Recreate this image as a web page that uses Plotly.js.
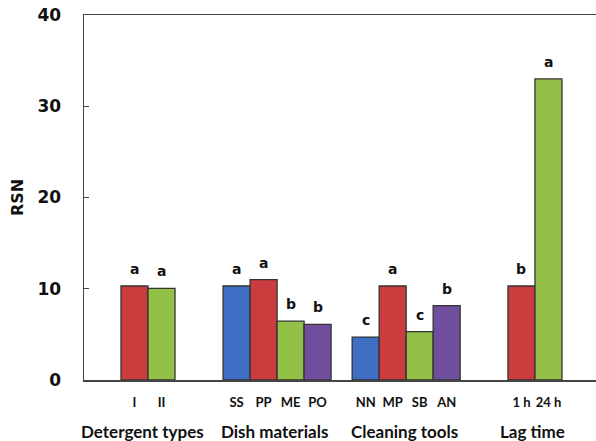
<!DOCTYPE html>
<html><head><meta charset="utf-8">
<script src="https://cdn.plot.ly/plotly-3.0.1.min.js"></script>
<style>html,body{margin:0;padding:0;background:#fff}#chart{width:596px;height:441px}</style>
</head><body><div id="chart"></div>
<script>
// Data
const groupNames = ["Detergent types", "Dish materials", "Cleaning tools", "Lag time"];
const categories = [["I", "II"], ["SS", "PP", "ME", "PO"], ["NN", "MP", "SB", "AN"], ["1 h", "24 h"]];
const rsnValues = [[10.3, 10.05], [10.3, 11.0, 6.45, 6.1], [4.7, 10.3, 5.3, 8.15], [10.3, 33.0]];
const letters = [["a", "a"], ["a", "a", "b", "b"], ["c", "a", "c", "b"], ["b", "a"]];
const barColors = [["#CC3B3D", "#93C047"], ["#3F6FC4", "#CC3B3D", "#93C047", "#6F4E9E"],
                   ["#3F6FC4", "#CC3B3D", "#93C047", "#6F4E9E"], ["#CC3B3D", "#93C047"]];

// Layout: start position of each group on the x axis (in bar-width units)
const groupStart = [0, 3.78, 8.56, 14.33];

const xs = [], ys = [], cols = [], labs = [], annotations = [];
categories.forEach((cats, g) => {
  cats.forEach((c, i) => {
    const x = groupStart[g] + i;
    xs.push(x); ys.push(rsnValues[g][i]); cols.push(barColors[g][i]); labs.push(c);
    annotations.push({x: x, y: rsnValues[g][i], xref: 'x', yref: 'y', text: letters[g][i],
      showarrow: false, yshift: 17, font: {family: 'DejaVu Sans', size: 14, weight: 'bold', color: '#111'}});
  });
  const center = groupStart[g] + (cats.length - 1) / 2;
  annotations.push({x: center, y: 0, xref: 'x', yref: 'paper', yanchor: 'middle', yshift: -51,
    xshift: g === 0 ? -6 : (g === 1 ? -3 : -2),
    text: groupNames[g], showarrow: false,
    font: {family: 'Lato', size: 17, weight: 'bold', color: '#111'}});
});

const trace = {type: 'bar', x: xs, y: ys, width: 1,
  marker: {color: cols, line: {color: '#333', width: 1.3}}, hoverinfo: 'skip'};

const layout = {
  width: 596, height: 441,
  margin: {l: 84, r: 0, t: 15, b: 61},
  paper_bgcolor: '#fff', plot_bgcolor: '#fff',
  showlegend: false,
  xaxis: {range: [-1.87, 17.09], tickvals: xs, ticktext: labs, showgrid: false, zeroline: false,
    showline: true, linecolor: '#444', linewidth: 1.5, mirror: true, ticks: '',
    ticklabelstandoff: 10,
    tickfont: {family: 'Lato', size: 13, weight: 'bold', color: '#111'}},
  yaxis: {range: [0, 40], tickvals: [0, 10, 20, 30, 40], showgrid: false, zeroline: false,
    showline: true, linecolor: '#444', linewidth: 1.5, ticks: 'inside', ticklen: 5, tickcolor: '#444',
    ticklabelstandoff: 18,
    tickfont: {family: 'DejaVu Sans', size: 17, weight: 'bold', color: '#111'},
    title: {text: 'RSN', standoff: 10, font: {family: 'DejaVu Sans', size: 16, weight: 'bold', color: '#111'}}},
  annotations: annotations
};
Plotly.newPlot('chart', [trace], layout, {displayModeBar: false, staticPlot: true});
</script></body></html>
